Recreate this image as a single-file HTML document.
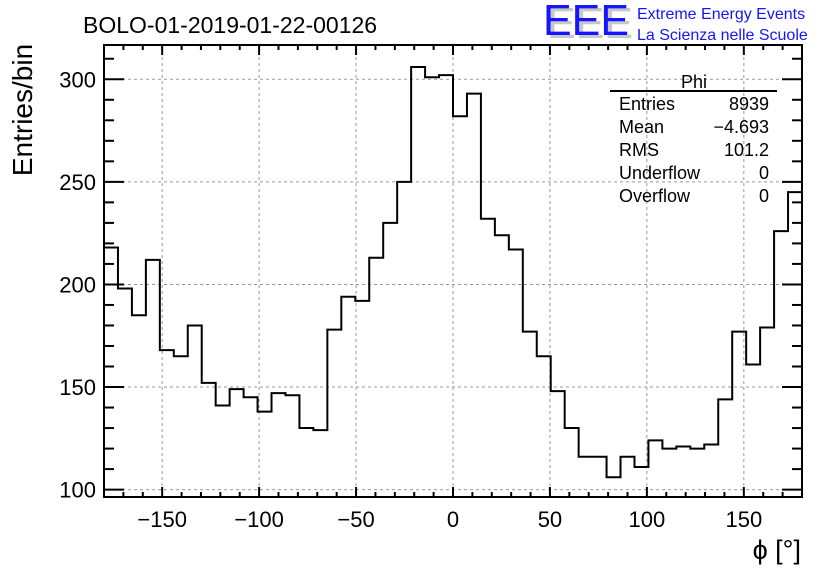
<!DOCTYPE html>
<html><head><meta charset="utf-8"><style>
body{margin:0;background:#fff;width:836px;height:572px;overflow:hidden}
svg text{font-family:"Liberation Sans",sans-serif}
</style></head><body>
<svg id="c" width="836" height="572">
<text x="83" y="33" font-size="23">BOLO-01-2019-01-22-00126</text>
<g>
<text x="547" y="38" font-size="44" fill="#c8c8c8" textLength="86" lengthAdjust="spacingAndGlyphs">EEE</text>
<text x="543" y="35" font-size="44" fill="#1515ff" textLength="86" lengthAdjust="spacingAndGlyphs">EEE</text>
<text x="637" y="19" font-size="16" fill="#1515ff">Extreme Energy Events</text>
<text x="637" y="40" font-size="16" fill="#1515ff">La Scienza nelle Scuole</text>
</g>
<text transform="translate(32,110) rotate(-90)" text-anchor="middle" font-size="28">Entries/bin</text>
<text x="801" y="559" text-anchor="end" font-size="27">ϕ [°]</text>
<g id="grid"></g><g id="ticks"></g>
<path id="hist" fill="none" stroke="#000" stroke-width="2"></path>
<rect x="104" y="45" width="698" height="452" fill="none" stroke="#000" stroke-width="2"></rect>
<g font-size="18">
<text x="694" y="88" text-anchor="middle">Phi</text>
<line x1="610" y1="91" x2="777" y2="91" stroke="#000" stroke-width="2"></line>
<text x="619" y="110">Entries</text><text x="769" y="110" text-anchor="end">8939</text>
<text x="619" y="133">Mean</text><text x="769" y="133" text-anchor="end">−4.693</text>
<text x="619" y="156">RMS</text><text x="769" y="156" text-anchor="end">101.2</text>
<text x="619" y="179">Underflow</text><text x="769" y="179" text-anchor="end">0</text>
<text x="619" y="202">Overflow</text><text x="769" y="202" text-anchor="end">0</text>
</g>
</svg>
<script>
const counts=[218,198,185,212,168,165,180,152,141,149,145,138,147,146,130,129,178,194,192,213,230,250,306,301,302,282,293,232,224,217,177,165,148,130,116,116,106,116,111,124,120,121,120,122,144,177,161,179,226,245];
const xMin=-180,xMax=180;
const xTicks=[-150,-100,-50,0,50,100,150];
const yTicks=[100,150,200,250,300];
const L=104,R=802,T=45,B=497,yLo=96.4,yHi=316.7;
const xs=v=>L+(v-xMin)/(xMax-xMin)*(R-L);
const ys=v=>B-(v-yLo)/(yHi-yLo)*(B-T);
const NS='http://www.w3.org/2000/svg';
const grid=document.getElementById('grid'),tk=document.getElementById('ticks');
function mk(tag,a,p){const e=document.createElementNS(NS,tag);for(const k in a)e.setAttribute(k,a[k]);p.appendChild(e);return e;}
xTicks.forEach(v=>{const g=mk('line',{x1:xs(v),x2:xs(v),y1:T,y2:B,stroke:'#999','stroke-dasharray':'3,3','stroke-width':1},grid);


const t=mk('text',{x:xs(v),y:527,'text-anchor':'middle','font-size':22},tk);t.textContent=v<0?'−'+(-v):String(v);

});
yTicks.forEach(v=>{const g=mk('line',{x1:L,x2:R,y1:ys(v),y2:ys(v),stroke:'#999','stroke-dasharray':'3,3','stroke-width':1},grid);


const t=mk('text',{x:96,y:ys(v)+8,'text-anchor':'end','font-size':22},tk);t.textContent=v;

});
for(let v=-180;v<=180;v+=10){const len=v%50===0?10:5;
mk('line',{x1:xs(v),x2:xs(v),y1:B,y2:B-len,stroke:'#000','stroke-width':2},tk);
mk('line',{x1:xs(v),x2:xs(v),y1:T,y2:T+len,stroke:'#000','stroke-width':2},tk);}
for(let v=100;v<=310;v+=10){const len=v%50===0?20:10;
mk('line',{x1:L,x2:L+len,y1:ys(v),y2:ys(v),stroke:'#000','stroke-width':2},tk);
mk('line',{x1:R,x2:R-len,y1:ys(v),y2:ys(v),stroke:'#000','stroke-width':2},tk);}
const w=(xMax-xMin)/counts.length;let d='';
counts.forEach((c,i)=>{const x0=xs(xMin+i*w),x1=xs(xMin+(i+1)*w),y=ys(c);d+=(i?'L':'M')+x0+','+y+'L'+x1+','+y;});
document.getElementById('hist').setAttribute('d',d);
</script>
</body></html>
